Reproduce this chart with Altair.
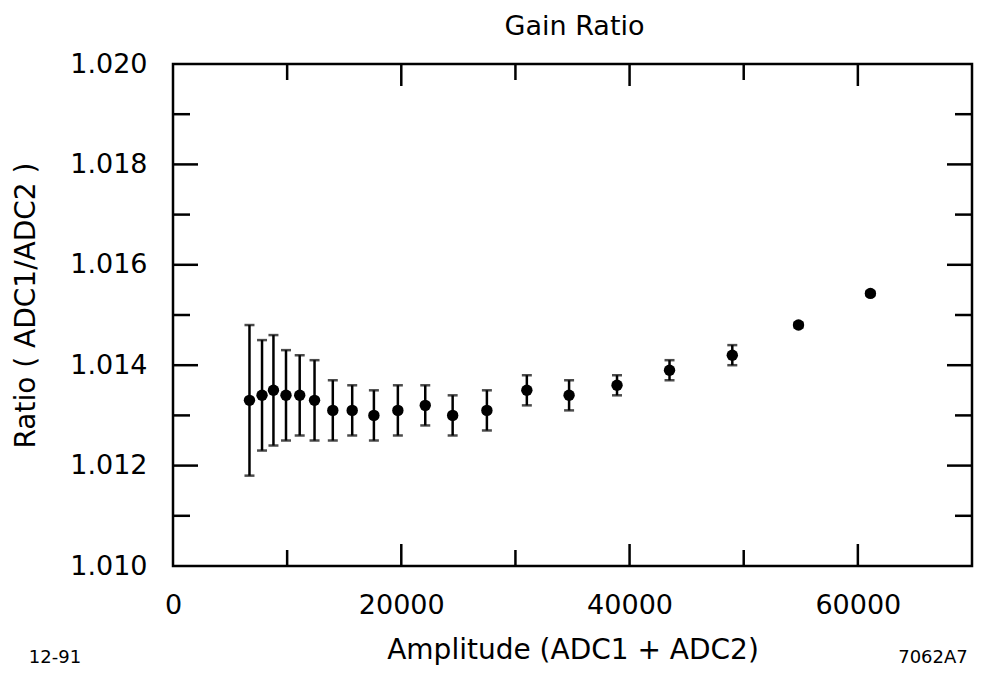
import altair as alt
import pandas as pd

# ---- data ----
amplitude = [6700, 7800, 8800, 9900, 11100, 12400, 14000, 15700, 17600, 19700,
             22100, 24500, 27500, 31000, 34700, 38900, 43500, 49000, 54800, 61100]
ratio = [1.0133, 1.0134, 1.0135, 1.0134, 1.0134, 1.0133, 1.0131, 1.0131, 1.0130, 1.0131,
         1.0132, 1.0130, 1.0131, 1.0135, 1.0134, 1.0136, 1.0139, 1.0142, 1.0148, 1.01543]
err = [0.0015, 0.0011, 0.0011, 0.0009, 0.0008, 0.0008, 0.0006, 0.0005, 0.0005, 0.0005,
       0.0004, 0.0004, 0.0004, 0.0003, 0.0003, 0.0002, 0.0002, 0.0002, 0.00005, 0.00004]

x_labels = [0, 20000, 40000, 60000]
y_labels = [1.010, 1.012, 1.014, 1.016, 1.018, 1.020]
x_major_ticks = [20000, 40000, 60000]
x_minor_ticks = [10000, 30000, 50000]
y_major_ticks = [1.012, 1.014, 1.016, 1.018]
y_minor_ticks = [1.011, 1.013, 1.015, 1.017, 1.019]

title_text = "Gain Ratio"
x_title = "Amplitude (ADC1 + ADC2)"
y_title = "Ratio ( ADC1/ADC2 )"
corner_left = "12-91"
corner_right = "7062A7"

FONT = "DejaVu Sans"
W, H = 799, 502

df = pd.DataFrame({"amp": amplitude, "ratio": ratio, "err": err})
df["lo"] = df["ratio"] - df["err"]
df["hi"] = df["ratio"] + df["err"]

xscale = alt.Scale(domain=[0, 70000], nice=False, zero=False)
yscale = alt.Scale(domain=[1.010, 1.020], nice=False, zero=False)

base = alt.Chart(df)

points = base.mark_circle(size=130, color="black", opacity=1).encode(
    x=alt.X("amp:Q", scale=xscale, axis=alt.Axis(
        values=x_labels, format="d", title=x_title, grid=False, ticks=False, tickSize=0,
        domain=False,
        labelFont=FONT, labelFontSize=27, labelColor="black", labelPadding=39,
        labelBaseline="middle", labelFlush=False, labelOverlap=False,
        titleFont=FONT, titleFontSize=28, titleFontWeight="normal", titleColor="black",
        titleX=W / 2, titleY=84, titleBaseline="middle", titleAnchor="middle")),
    y=alt.Y("ratio:Q", scale=yscale, axis=alt.Axis(
        values=y_labels, format=".3f", title=y_title, grid=False, ticks=False, tickSize=0,
        domain=False,
        labelFont=FONT, labelFontSize=27, labelColor="black", labelPadding=26,
        labelFlush=False, labelOverlap=False, labelBaseline="middle",
        titleFont=FONT, titleFontSize=28, titleFontWeight="normal", titleColor="black",
        titleAngle=-90, titleX=-147, titleY=241, titleBaseline="middle", titleAlign="center")),
)

bars = base.mark_rule(color="black", strokeWidth=2.5).encode(
    x="amp:Q", y="lo:Q", y2="hi:Q")
caps_lo = base.mark_tick(color="black", orient="horizontal", size=10, thickness=2.5).encode(
    x="amp:Q", y="lo:Q")
caps_hi = base.mark_tick(color="black", orient="horizontal", size=10, thickness=2.5).encode(
    x="amp:Q", y="hi:Q")


def xticks(vals, length):
    d = alt.Chart(pd.DataFrame({"v": vals}))
    top = d.mark_rule(color="black", strokeWidth=2.5).encode(
        x=alt.X("v:Q", scale=xscale), y=alt.value(0), y2=alt.value(length))
    bot = d.mark_rule(color="black", strokeWidth=2.5).encode(
        x=alt.X("v:Q", scale=xscale), y=alt.value(H), y2=alt.value(H - length))
    return [top, bot]


def yticks(vals, length):
    d = alt.Chart(pd.DataFrame({"v": vals}))
    left = d.mark_rule(color="black", strokeWidth=2.5).encode(
        y=alt.Y("v:Q", scale=yscale), x=alt.value(0), x2=alt.value(length))
    right = d.mark_rule(color="black", strokeWidth=2.5).encode(
        y=alt.Y("v:Q", scale=yscale), x=alt.value(W), x2=alt.value(W - length))
    return [left, right]


ticks = xticks(x_major_ticks, 22) + xticks(x_minor_ticks, 16) + \
    yticks(y_major_ticks, 25) + yticks(y_minor_ticks, 17)


def text_layer(t, size, x, y):
    return alt.Chart(pd.DataFrame({"t": [t]})).mark_text(
        font=FONT, fontSize=size, color="black", align="center", baseline="middle").encode(
        text="t:N", x=alt.value(x), y=alt.value(y))


title_layer = text_layer(title_text, 27, W / 2 + 2, -37)
corner = text_layer(corner_left, 18, -118, 594)
corner2 = text_layer(corner_right, 18, 760, 594)

chart = alt.layer(*ticks, bars, caps_lo, caps_hi, points, title_layer, corner, corner2).properties(
    width=W, height=H,
    background="white",
    autosize=alt.AutoSizeParams(type="none"),
    padding={"left": 165, "top": 56, "right": 2, "bottom": 100},
).configure_view(stroke="black", strokeWidth=2.5)

chart.save("out.html", embed_options={"renderer": "svg", "actions": False})
